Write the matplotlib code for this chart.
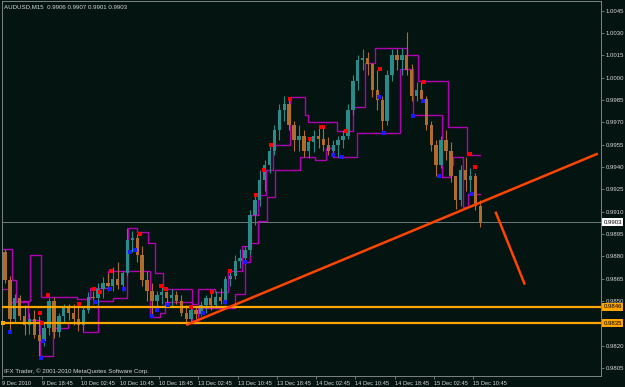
import matplotlib

matplotlib.use("Agg")
import matplotlib.pyplot as plt
import numpy as np
from matplotlib.transforms import blended_transform_factory

# Hourly candles (one entry per hour, left to right)
OPEN = [0.9883, 0.9864, 0.9838, 0.9852, 0.9840, 0.9834, 0.9838, 0.9827, 0.9823, 0.9832,
        0.9850, 0.9829, 0.9840, 0.9845, 0.9842, 0.9838, 0.9834, 0.9844, 0.9853, 0.9852,
        0.9858, 0.9862, 0.9860, 0.9865, 0.9861, 0.9869, 0.9891, 0.9892, 0.9881, 0.9864,
        0.9857, 0.9850, 0.9854, 0.9856, 0.9852, 0.9854, 0.9850, 0.9842, 0.9838, 0.9844,
        0.9841, 0.9847, 0.9852, 0.9847, 0.9853, 0.9850, 0.9865, 0.9867, 0.9877, 0.9879,
        0.9884, 0.9908, 0.9918, 0.9931, 0.9941, 0.9951, 0.9965, 0.9978, 0.9982, 0.9968,
        0.9958, 0.9961, 0.9951, 0.9957, 0.9961, 0.9959, 0.9955, 0.9951, 0.9955, 0.9958,
        0.9961, 0.9978, 0.9998, 1.0012, 1.0013, 1.0009, 0.9992, 0.9985, 0.9971, 1.0002,
        1.0015, 1.0012, 1.0015, 1.0005, 0.9988, 0.9992, 0.9986, 0.9968, 0.9955, 0.9941,
        0.9958, 0.9951, 0.9934, 0.9918, 0.9938, 0.9931, 0.9934, 0.9914]
HIGH = [0.9885, 0.9867, 0.9855, 0.9854, 0.9847, 0.9842, 0.9844, 0.9840, 0.9836, 0.9852,
        0.9853, 0.9842, 0.9848, 0.9848, 0.9848, 0.9847, 0.9846, 0.9856, 0.9857, 0.9862,
        0.9866, 0.9869, 0.9873, 0.9876, 0.9870, 0.9899, 0.9897, 0.9895, 0.9887, 0.9870,
        0.9862, 0.9857, 0.9860, 0.9857, 0.9858, 0.9857, 0.9854, 0.9847, 0.9847, 0.9846,
        0.9850, 0.9854, 0.9856, 0.9857, 0.9859, 0.9867, 0.9870, 0.9881, 0.9885, 0.9887,
        0.9911, 0.9921, 0.9938, 0.9945, 0.9955, 0.9968, 0.9982, 0.9988, 0.9985, 0.9971,
        0.9968, 0.9965, 0.9960, 0.9965, 0.9967, 0.9966, 0.9960, 0.9958, 0.9961, 0.9965,
        0.9982, 1.0002, 1.0015, 1.0019, 1.0017, 1.0010, 1.0005, 0.9988, 1.0005, 1.0019,
        1.0019, 1.0020, 1.0031, 1.0009, 0.9997, 0.9997, 0.9988, 0.9971, 0.9958, 0.9961,
        0.9965, 0.9957, 0.9934, 0.9941, 0.9947, 0.9939, 0.9936, 0.9918]
LOW = [0.9862, 0.9829, 0.9836, 0.9837, 0.9827, 0.9828, 0.9825, 0.9813, 0.9820, 0.9827,
       0.9825, 0.9826, 0.9836, 0.9837, 0.9834, 0.9830, 0.9830, 0.9842, 0.9848, 0.9847,
       0.9852, 0.9857, 0.9857, 0.9858, 0.9857, 0.9867, 0.9883, 0.9876, 0.9860, 0.9850,
       0.9840, 0.9844, 0.9848, 0.9847, 0.9846, 0.9848, 0.9840, 0.9834, 0.9836, 0.9838,
       0.9840, 0.9842, 0.9844, 0.9845, 0.9848, 0.9848, 0.9860, 0.9865, 0.9872, 0.9875,
       0.9881, 0.9901, 0.9914, 0.9924, 0.9936, 0.9948, 0.9958, 0.9971, 0.9965, 0.9951,
       0.9951, 0.9947, 0.9946, 0.9950, 0.9953, 0.9951, 0.9948, 0.9947, 0.9947, 0.9953,
       0.9959, 0.9975, 0.9992, 1.0005, 1.0002, 0.9987, 0.9978, 0.9965, 0.9968, 0.9998,
       1.0005, 1.0002, 1.0002, 0.9984, 0.9984, 0.9984, 0.9965, 0.9951, 0.9934, 0.9939,
       0.9945, 0.9930, 0.9912, 0.9914, 0.9924, 0.9922, 0.9911, 0.9900]
CLOSE = [0.9864, 0.9838, 0.9852, 0.9840, 0.9834, 0.9838, 0.9827, 0.9823, 0.9832, 0.9850,
         0.9829, 0.9840, 0.9845, 0.9842, 0.9838, 0.9834, 0.9844, 0.9853, 0.9852, 0.9858,
         0.9862, 0.9860, 0.9865, 0.9861, 0.9869, 0.9891, 0.9892, 0.9881, 0.9864, 0.9857,
         0.9850, 0.9854, 0.9856, 0.9852, 0.9854, 0.9850, 0.9842, 0.9838, 0.9844, 0.9841,
         0.9847, 0.9852, 0.9847, 0.9853, 0.9850, 0.9865, 0.9867, 0.9877, 0.9879, 0.9884,
         0.9908, 0.9918, 0.9931, 0.9941, 0.9951, 0.9965, 0.9978, 0.9982, 0.9968, 0.9958,
         0.9961, 0.9951, 0.9957, 0.9961, 0.9959, 0.9955, 0.9951, 0.9955, 0.9958, 0.9961,
         0.9978, 0.9998, 1.0012, 1.0013, 1.0009, 0.9992, 0.9985, 0.9971, 1.0002, 1.0015,
         1.0012, 1.0015, 1.0005, 0.9988, 0.9992, 0.9986, 0.9968, 0.9955, 0.9941, 0.9958,
         0.9951, 0.9934, 0.9918, 0.9938, 0.9931, 0.9934, 0.9914, 0.9903]

# step channel lines (time in hours from 9 Dec 10:45, price)
UPPER_T = [0.0, 1.9, 2.8, 5.6, 7.9, 15.2, 17.9, 21.5, 25.6, 27.5, 29.7, 31.1, 32.8, 38.7,
           39.9, 43.4, 46.0, 48.9, 50.5, 52.1, 53.8, 55.2, 58.7, 61.7, 62.3, 68.3, 71.5,
           74.0, 76.0, 82.5, 84.8, 90.9, 94.8, 97.5]
UPPER_P = [0.9885, 0.9864, 0.9850, 0.9881, 0.9853, 0.9851, 0.9859, 0.9870, 0.9899, 0.9896,
           0.9889, 0.9869, 0.9858, 0.9848, 0.9858, 0.9856, 0.9870, 0.9887, 0.9908, 0.9921,
           0.9938, 0.9955, 0.9987, 0.9975, 0.9970, 0.9964, 0.9980, 1.0010, 1.0020, 1.0015,
           0.9998, 0.9967, 0.9948, 0.9948]
LOWER_T = [0.0, 1.5, 5.2, 7.7, 10.3, 13.4, 16.4, 19.5, 22.6, 25.4, 30.1, 32.1, 33.2, 38.7,
           39.9, 47.5, 49.5, 50.5, 52.1, 54.0, 55.6, 60.7, 63.8, 66.0, 67.5, 72.4, 81.1,
           83.8, 89.7, 91.3, 91.9, 94.0, 95.0, 97.5]
LOWER_P = [0.9858, 0.9849, 0.9837, 0.9813, 0.9832, 0.9835, 0.9829, 0.9850, 0.9852, 0.9870,
           0.9839, 0.9842, 0.9849, 0.9835, 0.9845, 0.9855, 0.9876, 0.9889, 0.9904, 0.9920,
           0.9938, 0.9947, 0.9945, 0.9953, 0.9947, 0.9963, 1.0006, 0.9975, 0.9933, 0.9941,
           0.9947, 0.9913, 0.9922, 0.9922]

# fractal markers
UP_FRACTAL_T = [7.65, 8.06, 9.29, 15.61, 18.67, 19.9, 22.14, 28.06, 32.35, 33.37, 38.47,
                42.76, 46.43, 51.73, 53.37, 54.8, 58.67, 62.76, 65.0, 65.41, 70.1, 77.04,
                86.02, 95.41, 96.43]
UP_FRACTAL_P = [0.9842, 0.9835, 0.9854, 0.9848, 0.9858, 0.9856, 0.9870, 0.9895, 0.9860,
                0.9858, 0.9846, 0.9856, 0.9870, 0.9921, 0.9938, 0.9955, 0.9986, 0.9959,
                0.9967, 0.9967, 0.9964, 1.0006, 0.9997, 0.9949, 0.9940]
DN_FRACTAL_T = [1.53, 7.86, 8.27, 18.88, 21.94, 24.8, 26.02, 27.04, 30.51, 31.53, 33.78,
                40.92, 45.41, 49.49, 67.45, 69.29, 76.84, 77.86, 83.78, 85.82, 89.08, 95.82]
DN_FRACTAL_P = [0.9829, 0.9812, 0.9823, 0.9849, 0.9858, 0.9858, 0.9883, 0.9884, 0.9840,
                0.9844, 0.9847, 0.9842, 0.9849, 0.9876, 0.9948, 0.9947, 0.9987, 0.9963,
                0.9974, 0.9984, 0.9934, 0.9922]

TREND_T = [37.6, 121.5]
TREND_P = [0.9834, 0.9949]
ARROW_T = [100.6, 106.6]
ARROW_P = [0.9910, 0.9861]
HLINES = [0.9846, 0.9835]
LAST_PRICE = 0.9903

# 0.9835 sits under the orange price box, so it is left out of the scale labels
PRICE_TICKS = [1.0045, 1.0030, 1.0015, 1.0000, 0.9985, 0.9970, 0.9955, 0.9940, 0.9925,
               0.9910, 0.9895, 0.9880, 0.9865, 0.9850, 0.9820, 0.9805]
TIME_TICKS = [0, 8, 16, 24, 32, 40, 48, 56, 64, 72, 80, 88, 96]
TIME_LABELS = ["9 Dec 2010", "9 Dec 18:45", "10 Dec 02:45", "10 Dec 10:45", "10 Dec 18:45",
               "13 Dec 02:45", "13 Dec 10:45", "13 Dec 18:45", "14 Dec 02:45",
               "14 Dec 10:45", "14 Dec 18:45", "15 Dec 02:45", "15 Dec 10:45"]

BG = "#041410"
FG = "#d8d8d8"
GRID = "#7c8484"
BULL = "#2b8a8a"
BEAR = "#b06c2c"
MAGENTA = "#b400b4"
ORANGE = "#ffa500"
ORANGERED = "#ff4500"

plt.rcParams["font.family"] = ["Liberation Sans", "DejaVu Sans"]

fig = plt.figure(figsize=(6.25, 3.87), dpi=100, facecolor=BG)
ax = fig.add_axes([2 / 625, 11 / 387, 599 / 625, 375 / 387], facecolor=BG)

o = np.array(OPEN)
h = np.array(HIGH)
l = np.array(LOW)
c = np.array(CLOSE)
x = np.arange(len(o)) + 0.5
colors = np.where(c >= o, BULL, BEAR)

ax.vlines(x, l, h, colors=colors, lw=0.8, zorder=3)
ax.bar(x, c - o, bottom=o, width=0.7, color=colors, linewidth=0, zorder=3)

ax.plot(UPPER_T, UPPER_P, drawstyle="steps-post", color=MAGENTA, lw=1.0, zorder=2)
ax.plot(LOWER_T, LOWER_P, drawstyle="steps-post", color=MAGENTA, lw=1.0, zorder=2)

ax.plot(UP_FRACTAL_T, UP_FRACTAL_P, "s", color="#ff0000", ms=3.4, mew=0, zorder=5)
ax.plot(DN_FRACTAL_T, DN_FRACTAL_P, "s", color="#1a1aff", ms=3.4, mew=0, zorder=5)

for level in HLINES:
    ax.axhline(level, color=ORANGE, lw=1.6, zorder=4)
ax.plot([0.15], [HLINES[1]], "s", color=ORANGE, ms=3.5, mew=0, zorder=6, clip_on=False)
ax.axhline(LAST_PRICE, color="#6c7a7e", lw=0.7, zorder=1)

ax.plot(TREND_T, TREND_P, color=ORANGERED, lw=1.8, zorder=6, solid_capstyle="butt")
ax.plot(ARROW_T, ARROW_P, color=ORANGERED, lw=1.8, zorder=6, solid_capstyle="butt")

ax.set_xlim(-0.1, 122.14)
ax.set_ylim(0.97996, 1.00515)

ax.yaxis.tick_right()
ax.set_yticks(PRICE_TICKS)
ax.set_yticklabels([f"{p:.4f}" for p in PRICE_TICKS])
ax.set_xticks(TIME_TICKS)
ax.set_xticklabels(TIME_LABELS, ha="left")
ax.tick_params(axis="y", colors=GRID, labelcolor=FG, labelsize=4.3, length=2, width=0.6, pad=1.5)
ax.tick_params(axis="x", colors=GRID, labelcolor=FG, labelsize=4.1, length=2.5, width=0.6, pad=0.8)

for side, spine in ax.spines.items():
    spine.set_color(GRID)
    spine.set_linewidth(0.7)
    if side in ("left", "top"):
        spine.set_linestyle((0, (1, 1)))

tr = blended_transform_factory(ax.transAxes, ax.transData)
box_labels = [(LAST_PRICE, "white"), (HLINES[0], ORANGE), (HLINES[1], ORANGE)]
for level, face in box_labels:
    ax.text(1.004, level, f"{level:.4f}", transform=tr, ha="left", va="center",
            fontsize=4.3, color="black", clip_on=False, zorder=10,
            bbox={"boxstyle": "square,pad=0.25", "facecolor": face, "edgecolor": "none"})

ax.text(0.004, 0.992, "AUDUSD,M15  0.9906 0.9907 0.9901 0.9903", transform=ax.transAxes,
        ha="left", va="top", fontsize=4.4, color=FG)
ax.text(0.003, 0.006, "IFX Trader, \u00a9 2001-2010 MetaQuotes Software Corp.",
        transform=ax.transAxes, ha="left", va="bottom", fontsize=4.4, color=FG)

fig.savefig("out.png", dpi=100, facecolor=BG)
